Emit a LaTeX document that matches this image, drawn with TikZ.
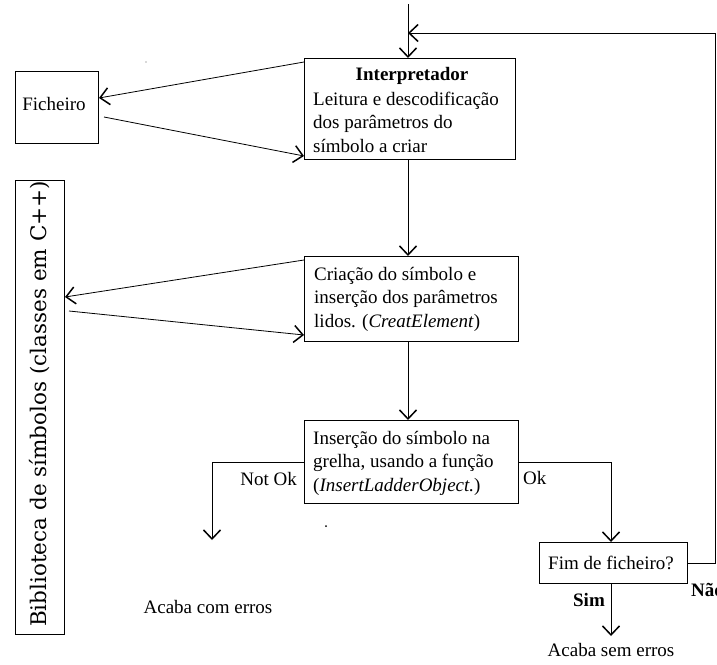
\documentclass[tikz,border=0pt]{standalone}
\usepackage{fontspec}
\setmainfont{Liberation Serif}
\newfontfamily\libfont{DejaVu Serif}
\usetikzlibrary{arrows.meta}
\begin{document}
\begin{tikzpicture}[x=1pt,y=-1pt,
  every node/.style={font=\fontsize{19}{23.5}\selectfont, inner sep=0pt},
  box/.style={draw, line width=0.8pt, anchor=north west},
  txt/.style={align=left, anchor=west},
  link/.style={line width=0.8pt, -{Straight Barb[length=9pt,width=17pt,line width=1.5pt]}},
  wire/.style={line width=0.8pt},
  lbl/.style={font=\fontsize{19}{23}\selectfont}]
\useasboundingbox (0,0) rectangle (717,664);

% boxes
\node[box, minimum width=211pt, minimum height=101pt] (interp) at (304,58) {};
\node[box, minimum width=83pt, minimum height=72pt] (fich) at (15,71) {};
\node[box, minimum width=49pt, minimum height=454pt] (bib) at (15,180) {};
\node[box, minimum width=214pt, minimum height=85pt] (cria) at (304,256) {};
\node[box, minimum width=214pt, minimum height=83pt] (ins) at (304,420) {};
\node[box, minimum width=148pt, minimum height=41pt] (fim) at (539,542) {};

% box texts
\node (tinterp) at (412,76) {\textbf{Interpretador}};
\node[txt] (tinterp2) at (313,122) {Leitura e descodificação\\dos parâmetros do\\símbolo a criar};
\node (tfich) at (54,104) {Ficheiro};
\node[rotate=90, font=\libfont\fontsize{21.5}{25}\selectfont] (tbib) at (40,404) {Biblioteca de símbolos (classes em C++)};
\node[txt] (tcria) at (314,299) {Criação do símbolo e\\inserção dos parâmetros\\lidos. (\textit{CreatElement})};
\node[txt] (tins) at (313,463) {Inserção do símbolo na\\grelha, usando a função\\(\textit{InsertLadderObject.})};
\node (tfim) at (611,563) {Fim de ficheiro?};

% free labels
\node[lbl, anchor=east] (notok) at (297,479) {Not Ok};
\node[lbl, anchor=west] (ok) at (523,478) {Ok};
\node[lbl, anchor=west] (nao) at (691,590) {\textbf{Não}};
\node[lbl] (sim) at (589,600) {\textbf{Sim}};
\node (endok) at (611,650) {Acaba sem erros};
\node (enderr) at (208,607) {Acaba com erros};

% control flow coordinates
\coordinate (start) at (408,4);
\coordinate (loopin) at (408,33);
\coordinate (noe) at (715,563);
\coordinate (nou) at (715,33);
\coordinate (nokL) at (212,462);
\coordinate (nokE) at (212,540);
\coordinate (okR) at (611,462);
\coordinate (simE) at (611,636);

% exchange end points
\coordinate (interpOut) at (304,62);
\coordinate (interpIn) at (304,156);
\coordinate (fichIn) at (99,98);
\coordinate (fichOut) at (104,117);
\coordinate (criaOut) at (304,260);
\coordinate (criaIn) at (304,335);
\coordinate (bibIn) at (65,297);
\coordinate (bibOut) at (69,311);

% main flow
\draw[link] (start) -- (interp.north -| start);
\draw[link] (interp.south -| start) -- (cria.north -| start);
\draw[link] (cria.south -| start) -- (ins.north -| start);
\draw[wire] (ins.west |- nokL) -- (nokL);
\draw[link] (nokL) -- (nokE);
\draw[wire] (ins.east |- okR) -- (okR);
\draw[link] (okR) -- (fim.north -| okR);
\draw[link] (fim.south -| simE) -- (simE);
\draw[wire] (fim.east |- noe) -- (noe) -- (nou);
\draw[link] (nou) -- (loopin);

% file and library exchanges
\draw[link] (interpOut) -- (fichIn);
\draw[link] (fichOut) -- (interpIn);
\draw[link] (criaOut) -- (bibIn);
\draw[link] (bibOut) -- (criaIn);

% small specks
\fill (326,526) circle (1pt);
\fill[gray!60] (146,62) circle (0.8pt);
\end{tikzpicture}
\end{document}
